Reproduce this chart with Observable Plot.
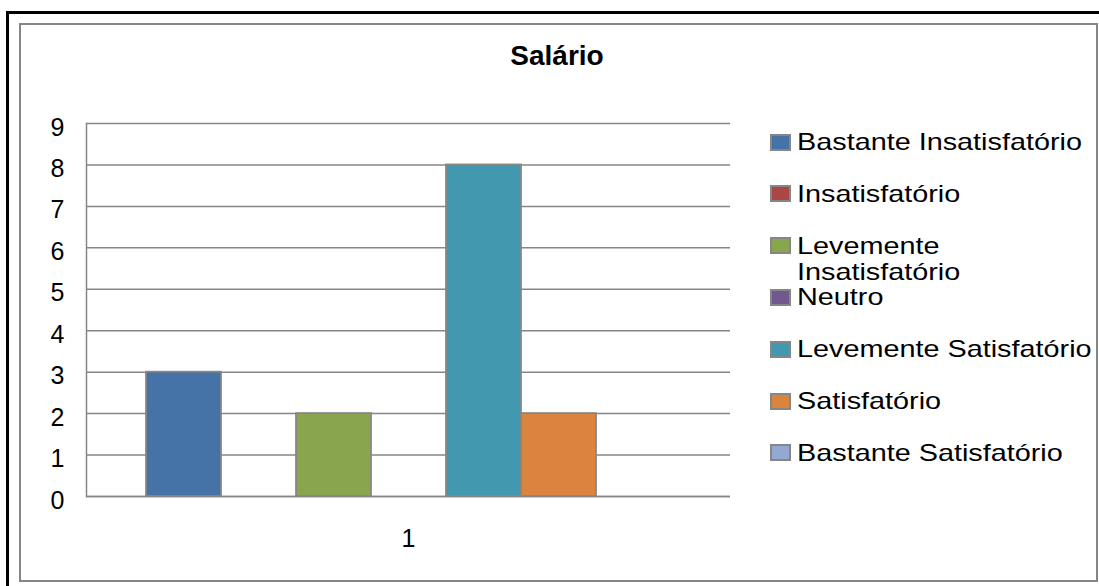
<!DOCTYPE html>
<html>
<head>
<meta charset="utf-8">
<script src="https://cdn.jsdelivr.net/npm/d3@7"></script>
<script src="https://cdn.jsdelivr.net/npm/@observablehq/plot@0.6"></script>
<style>
  html, body { margin: 0; padding: 0; background: #fff; }
  #wrap { position: relative; width: 1099px; height: 586px; overflow: hidden; background: #fff;
          font-family: "Liberation Sans", Arial, sans-serif; }
  #chart { position: absolute; left: 0; top: 0; }
  .edge { position: absolute; background: #000; }
  #frame { position: absolute; left: 19px; top: 23px; width: 1075px; height: 555px;
           border: 2px solid #868686; box-sizing: content-box; }
  #title { position: absolute; left: 407px; width: 300px; top: 42px; text-align: center;
           font-weight: bold; font-size: 28px; line-height: 28px; color: #000; }
  .row { position: absolute; left: 770px; display: flex; align-items: flex-start; }
  .sw { width: 17px; height: 13px; border: 2px solid #868686; margin-top: 4.5px; flex: none; }
  .lab { margin-left: 6px; width: 252px; font-size: 24px; line-height: 26px; color: #000;
         transform: scaleX(1.2); transform-origin: 0 0; white-space: normal; }
</style>
</head>
<body>
<div id="wrap">
  <div class="edge" style="left:6px;top:11px;width:3px;height:575px"></div>
  <div class="edge" style="left:6px;top:11px;width:1093px;height:3px"></div>
  <div id="frame"></div>
  <div id="chart"></div>
  <div id="title"></div>
  <div id="legend"></div>
</div>
<script>
// Survey answers about salary, one bar per answer category
const title = "Salário";
const group = "1";
const categories = [
  "Bastante Insatisfatório",
  "Insatisfatório",
  "Levemente Insatisfatório",
  "Neutro",
  "Levemente Satisfatório",
  "Satisfatório",
  "Bastante Satisfatório"
];
const counts = [3, 0, 2, 0, 8, 2, 0];
const colors = ["#4572A7", "#AA4643", "#89A54E", "#71588F", "#4198AF", "#DB843D", "#93A9CF"];
const yTicks = [0, 1, 2, 3, 4, 5, 6, 7, 8, 9];

const rows = categories.map((c, i) => ({group, category: c, count: counts[i]}));

const chart = Plot.plot({
  width: 1099,
  height: 586,
  marginLeft: 86,
  marginRight: 369,
  marginTop: 123,
  marginBottom: 90,
  style: {background: "transparent", fontFamily: "'Liberation Sans', Arial, sans-serif", color: "#000"},
  fx: {domain: [group], padding: 0},
  x: {domain: categories, paddingInner: 0, paddingOuter: 0.76, axis: null},
  y: {domain: [0, 9]},
  color: {domain: categories, range: colors},
  marks: [
    Plot.gridY(yTicks, {stroke: "#868686", strokeOpacity: 1, strokeWidth: 1.5}),
    Plot.frame({anchor: "left", stroke: "#868686", strokeWidth: 1.5}),
    Plot.barY(rows.filter(d => d.count > 0), {
      fx: "group", x: "category", y: "count", fill: "category",
      stroke: "#868686", strokeWidth: 1.75
    }),
    Plot.ruleY([0], {stroke: "#868686", strokeWidth: 1.5}),
    Plot.axisY(yTicks, {tickSize: 0, tickPadding: 22, fontSize: 25, label: null, dy: 4}),
    Plot.axisFx({anchor: "bottom", tickSize: 0, tickPadding: 33, fontSize: 25, label: null})
  ]
});
document.getElementById("chart").appendChild(chart);

document.getElementById("title").textContent = title;

// Legend: one swatch per category, stacked down the right side
const legend = document.getElementById("legend");
const rowCenter0 = 142, rowStep = 51.8;
categories.forEach((c, i) => {
  const r = document.createElement("div");
  r.className = "row";
  r.style.top = (rowCenter0 + i * rowStep - 13) + "px";
  const sw = document.createElement("div");
  sw.className = "sw";
  sw.style.background = colors[i];
  const lab = document.createElement("div");
  lab.className = "lab";
  lab.textContent = c;
  r.appendChild(sw);
  r.appendChild(lab);
  legend.appendChild(r);
});
</script>
</body>
</html>
